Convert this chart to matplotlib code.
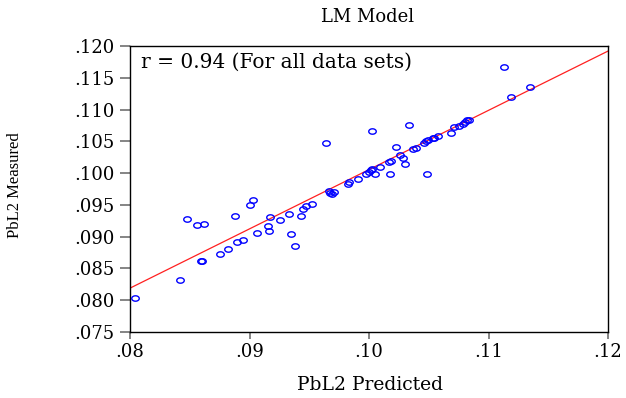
import numpy as np
import matplotlib
matplotlib.use('Agg')
import matplotlib.pyplot as plt
from matplotlib.path import Path
from matplotlib.ticker import FuncFormatter

# values
predicted = [
    0.08042, 0.08422, 0.08475, 0.08562, 0.08621, 0.08595, 0.08606, 0.08752,
    0.08819, 0.08878, 0.08897, 0.08945, 0.09006, 0.09029, 0.09065, 0.09151,
    0.09163, 0.09168, 0.09258, 0.09327, 0.09344, 0.09378, 0.09428, 0.09448,
    0.09470, 0.09526, 0.09641, 0.09663, 0.09677, 0.09691, 0.09705, 0.09826,
    0.09831, 0.09904, 0.09977, 0.09998, 0.10013, 0.10027, 0.10049, 0.10027,
    0.10096, 0.10174, 0.10169, 0.10186, 0.10228, 0.10256, 0.10287, 0.10300,
    0.10335, 0.10365, 0.10390, 0.10460, 0.10474, 0.10491, 0.10488, 0.10532,
    0.10540, 0.10577, 0.10686, 0.10709, 0.10753, 0.10790, 0.10807, 0.10824,
    0.10834, 0.11130, 0.11192, 0.11348,
]
measured = [
    0.08028, 0.08312, 0.09275, 0.09180, 0.09196, 0.08612, 0.08612, 0.08722,
    0.08811, 0.09322, 0.08921, 0.08943, 0.09506, 0.09575, 0.09063, 0.09164,
    0.09095, 0.09316, 0.09259, 0.09359, 0.09038, 0.08849, 0.09322, 0.09442,
    0.09485, 0.09521, 0.10475, 0.09711, 0.09685, 0.09674, 0.09706, 0.09828,
    0.09853, 0.09907, 0.09985, 0.10017, 0.10053, 0.10064, 0.09990, 0.10658,
    0.10093, 0.09985, 0.10169, 0.10184, 0.10412, 0.10285, 0.10243, 0.10148,
    0.10753, 0.10377, 0.10398, 0.10475, 0.10506, 0.10519, 0.09982, 0.10548,
    0.10560, 0.10579, 0.10630, 0.10727, 0.10745, 0.10780, 0.10800, 0.10832,
    0.10843, 0.11668, 0.11201, 0.11353,
]

# fitted line  measured = intercept + slope * predicted
fit_intercept = 0.0073
fit_slope = 0.9325

x_ticks = [0.08, 0.09, 0.10, 0.11, 0.12]
y_ticks = [0.075, 0.080, 0.085, 0.090, 0.095, 0.100, 0.105, 0.110, 0.115, 0.120]

title = 'LM Model'
x_title = 'PbL2 Predicted'
y_title = 'PbL2 Measured'
note = 'r = 0.94 (For all data sets)'

# the original text is a wide, stretched serif; DejaVu Serif gets closest in width
plt.rcParams['font.family'] = ['DejaVu Serif']

fig = plt.figure(figsize=(6.26, 3.98), dpi=100)
ax = fig.add_axes([130 / 626, 1 - 332 / 398, 478 / 626, 286 / 398])

# slightly flattened open circle, like the original
t = np.linspace(0, 2 * np.pi, 40)
ellipse = Path(np.column_stack([np.cos(t), 0.72 * np.sin(t)]), closed=True)

x_fit = np.array([x_ticks[0], x_ticks[-1]])
ax.plot(x_fit, fit_intercept + fit_slope * x_fit, color='#ff2020', linewidth=0.9, zorder=2)
ax.plot(predicted, measured, linestyle='none', marker=ellipse, markersize=5.4,
        markerfacecolor='none', markeredgecolor='#0000ff', markeredgewidth=1.0, zorder=3)

ax.set_xlim(x_ticks[0], x_ticks[-1])
ax.set_ylim(y_ticks[0], y_ticks[-1])
ax.set_xticks(x_ticks)
ax.set_yticks(y_ticks)
ax.xaxis.set_major_formatter(FuncFormatter(lambda v, p: f'{v:.2f}'.lstrip('0')))
ax.yaxis.set_major_formatter(FuncFormatter(lambda v, p: f'{v:.3f}'.lstrip('0')))
ax.tick_params(direction='out', width=1.2, color='#707070', labelsize=13,
               top=False, right=False)
ax.tick_params(axis='y', length=7, pad=4)
ax.tick_params(axis='x', length=5, pad=3)
for s in ax.spines.values():
    s.set_linewidth(1.0)
    s.set_color('black')

ax.text(0.022, 0.978, note, transform=ax.transAxes, ha='left', va='top', fontsize=14.5)
fig.text(368 / 626, 1 - 17 / 398, title, ha='center', va='center', fontsize=13)
fig.text(370 / 626, 1 - 385 / 398, x_title, ha='center', va='center', fontsize=13.5)
fig.text(15 / 626, 1 - 185 / 398, y_title, ha='center', va='center', rotation=90,
         fontsize=12, family='Liberation Serif')

fig.savefig('out.png', dpi=100)
